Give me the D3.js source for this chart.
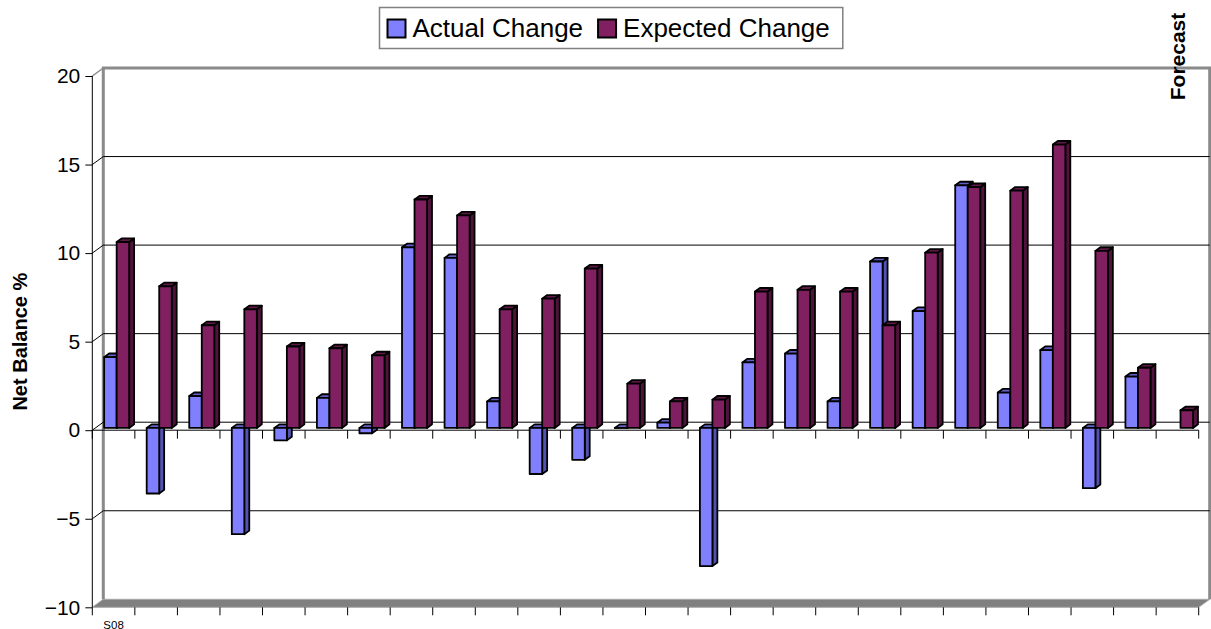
<!DOCTYPE html>
<html>
<head>
<meta charset="utf-8">
<script src="https://cdn.jsdelivr.net/npm/d3@7"></script>
<style>
  html, body { margin: 0; padding: 0; background: #fff; }
  svg { display: block; font-family: "Liberation Sans", Arial, sans-serif; }
</style>
</head>
<body>
<svg id="chart" width="1211" height="629"></svg>
<script>
// ---- data ----
const categories = d3.range(26);
const categoryLabels = ["S08", "", "", "", "", "", "", "", "", "", "", "", "", "", "", "", "", "", "", "", "", "", "", "", "", ""];
const actualChange   = [4.0, -3.7, 1.8, -6.0, -0.7, 1.7, -0.3, 10.2, 9.6, 1.5, -2.6, -1.8, 0.0, 0.3, -7.8, 3.7, 4.2, 1.5, 9.4, 6.6, 13.7, 2.0, 4.4, -3.4, 2.9, null];
const expectedChange = [10.5, 8.0, 5.8, 6.7, 4.6, 4.5, 4.1, 12.9, 12.0, 6.7, 7.3, 9.0, 2.5, 1.5, 1.6, 7.7, 7.8, 7.7, 5.8, 9.9, 13.6, 13.4, 16.0, 10.0, 3.4, 1.0];
const seriesNames = ["Actual Change", "Expected Change"];
const yTicks = [-10, -5, 0, 5, 10, 15, 20];

// ---- style ----
const faceColors = {
  "Actual Change":   { front: "#8080FF", side: "#5252B0", top: "#6060C8" },
  "Expected Change": { front: "#802060", side: "#50133C", top: "#601848" }
};

const svg = d3.select("#chart");

// front-plane scales
const x = d3.scaleBand().domain(categories).range([92.3, 1198.7]).padding(0);
const y = d3.scaleLinear().domain([-10, 20]).range([607.3, 76]);
const inner = d3.scaleBand().domain(seriesNames).range([0, x.bandwidth()])
  .paddingInner(0).paddingOuter(0.7);

// depth projection: depth 0 = front plane, 1 = back wall
const DEPTH_DX = 11, DEPTH_DY = -8;
const P = (px, v, d) => [px + d * DEPTH_DX, y(v) + d * DEPTH_DY];
const barD0 = 0.28, barD1 = 0.73;

const xMin = x.range()[0], xMax = x.range()[1];
const yMin = y.domain()[0], yMax = y.domain()[1];
const poly = pts => "M" + pts.map(p => p.join(",")).join("L") + "Z";

// ---- walls ----
const walls = svg.append("g");
// back wall
walls.append("path")
  .attr("d", poly([P(xMin, yMax, 1), P(xMax, yMax, 1), P(xMax, yMin, 1), P(xMin, yMin, 1)]))
  .attr("fill", "#fff").attr("stroke", "none");
// floor slab
walls.append("path")
  .attr("d", poly([P(xMin, yMin, 0), P(xMin, yMin, 1), P(xMax, yMin, 1), P(xMax, yMin, 0)]))
  .attr("fill", "#808080").attr("stroke", "#a8a8a8").attr("stroke-width", 1);

// gridlines on back wall and side wall
const grid = svg.append("g");
yTicks.filter(v => v !== yMin && v !== yMax).forEach(v => {
  grid.append("line")
    .attr("x1", P(xMin, v, 1)[0]).attr("y1", P(xMin, v, 1)[1])
    .attr("x2", P(xMax, v, 1)[0]).attr("y2", P(xMax, v, 1)[1])
    .attr("stroke", "#000").attr("stroke-width", 1);
  grid.append("line")
    .attr("x1", P(xMin, v, 0)[0]).attr("y1", P(xMin, v, 0)[1])
    .attr("x2", P(xMin, v, 1)[0]).attr("y2", P(xMin, v, 1)[1])
    .attr("stroke", "#000").attr("stroke-width", 1);
});

// wall outlines
const wallStroke = "#8a8a8a";
walls.append("path")
  .attr("d", "M" + P(xMin, yMin, 1).join(",") + "L" + P(xMin, yMax, 1).join(",") +
             "L" + P(xMax, yMax, 1).join(",") + "L" + P(xMax, yMin, 1).join(","))
  .attr("fill", "none").attr("stroke", wallStroke).attr("stroke-width", 3);
walls.append("line")
  .attr("x1", P(xMin, yMax, 0)[0]).attr("y1", P(xMin, yMax, 0)[1])
  .attr("x2", P(xMin, yMax, 1)[0]).attr("y2", P(xMin, yMax, 1)[1])
  .attr("stroke", wallStroke).attr("stroke-width", 1.5);

// ---- category axis at zero and at floor ----
const boundaries = categories.map(c => x(c)).concat([xMax]);
const axisG = svg.append("g");
axisG.append("line")
  .attr("x1", xMin).attr("x2", xMax).attr("y1", y(0)).attr("y2", y(0))
  .attr("stroke", "#000").attr("stroke-width", 1);
boundaries.forEach(bx => {
  axisG.append("line").attr("x1", bx).attr("x2", bx)
    .attr("y1", y(0)).attr("y2", y(0) + 8.5).attr("stroke", "#000").attr("stroke-width", 1);
  axisG.append("line").attr("x1", bx).attr("x2", bx)
    .attr("y1", y(yMin)).attr("y2", y(yMin) + 8).attr("stroke", "#000").attr("stroke-width", 1);
});
categories.forEach(c => {
  if (!categoryLabels[c]) return;
  axisG.append("text")
    .attr("x", x(c) + x.bandwidth() / 2).attr("y", 628.5)
    .attr("text-anchor", "middle").attr("font-size", 11.5).attr("fill", "#000")
    .text(categoryLabels[c]);
});

// ---- value axis ----
const yAxisG = svg.append("g").attr("transform", `translate(${xMin},0)`);
yAxisG.call(d3.axisLeft(y).tickValues(yTicks).tickSize(7).tickPadding(5).tickFormat(d3.format("d")));
yAxisG.select(".domain").attr("d", `M0,${y(yMax)}V${y(yMin)}`).attr("stroke", "#000");
yAxisG.selectAll(".tick line").attr("stroke", "#000");
yAxisG.selectAll(".tick text")
  .attr("font-size", 21).attr("font-family", "Liberation Sans, Arial, sans-serif").attr("fill", "#000");

svg.append("text")
  .attr("transform", `translate(27,${(y(yMax) + y(yMin)) / 2}) rotate(-90)`)
  .attr("text-anchor", "middle").attr("font-size", 20).attr("font-weight", "bold")
  .text("Net Balance %");

// ---- bars (painted left to right) ----
const barsG = svg.append("g");
const series = [actualChange, expectedChange];
categories.forEach(c => {
  seriesNames.forEach((s, si) => {
    const v = series[si][c];
    if (v === null || v === undefined) return;
    const x0 = x(c) + inner(s), x1 = x0 + inner.bandwidth();
    const top = Math.max(0, v), bot = Math.min(0, v);
    const col = faceColors[s];
    const g = barsG.append("g")
      .attr("stroke", "#000").attr("stroke-width", 1.8).attr("stroke-linejoin", "round");
    g.append("path").attr("fill", col.side)
      .attr("d", poly([P(x1, top, barD0), P(x1, top, barD1), P(x1, bot, barD1), P(x1, bot, barD0)]));
    g.append("path").attr("fill", col.top)
      .attr("d", poly([P(x0, top, barD0), P(x0, top, barD1), P(x1, top, barD1), P(x1, top, barD0)]));
    g.append("path").attr("fill", col.front)
      .attr("d", poly([P(x0, top, barD0), P(x1, top, barD0), P(x1, bot, barD0), P(x0, bot, barD0)]));
  });
});

// ---- forecast marker ----
svg.append("text")
  .attr("transform", `translate(1185,${56.5}) rotate(-90)`)
  .attr("text-anchor", "middle").attr("font-size", 21).attr("font-weight", "bold")
  .text("Forecast");

// ---- legend ----
const legend = svg.append("g");
const legendBox = legend.append("rect")
  .attr("fill", "#fff").attr("stroke", "#808080").attr("stroke-width", 1.5);
let lx = 387.5;
const items = [];
seriesNames.forEach((s, i) => {
  legend.append("rect")
    .attr("x", lx).attr("y", 19.5).attr("width", 18).attr("height", 18)
    .attr("fill", faceColors[s].front).attr("stroke", "#000").attr("stroke-width", 2);
  const t = legend.append("text")
    .attr("x", lx + 25).attr("y", 37.3).attr("font-size", 26).attr("fill", "#000")
    .text(s);
  const w = t.node().getComputedTextLength();
  lx = lx + 25 + w + 15;
  items.push(lx);
});
legendBox.attr("x", 379.5).attr("y", 7.5).attr("width", (items[items.length - 1] - 15 + 13) - 379.5).attr("height", 41);
</script>
</body>
</html>
